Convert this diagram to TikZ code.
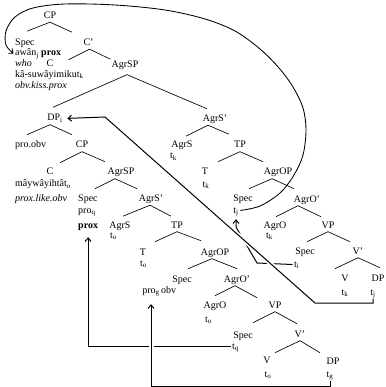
\documentclass[tikz,border=0pt]{standalone}
\usepackage{fontspec}
\setmainfont{Liberation Serif}
\usetikzlibrary{calc,arrows.meta}
\newcommand\mytri[6]{\draw[br] ($(#1.south)+(#2,0)+(#3,#4)$) -- ($(#1.south)+(#2,0)$) -- ($(#1.south)+(#2,0)+(#5,#6)$);}
\begin{document}
\begin{tikzpicture}[x=1pt,y=-1pt,
  lab/.style={inner sep=1.5pt, text height=7pt, text depth=2pt, anchor=base, font=\fontsize{10}{12}\selectfont},
  labw/.style={lab, anchor=base west},
  br/.style={line width=0.65pt},
  con/.style={line width=1pt},
  arr/.style={con, -{Straight Barb[length=3.5pt,width=6pt]}},
]
\useasboundingbox (0,0) rectangle (385,387);

% ---- left / top part
\node[lab] (cp1) at (50,18.5) {CP};
\node[labw] (spec1) at (13.5,45.5) {Spec};
\node[lab] (cbar1) at (88.5,45.5) {C'};
\node[labw] (awan) at (13.5,56) {awân\textsubscript{j} \textbf{prox}};
\node[labw] (who) at (13.5,66.5) {\textit{who}};
\node[lab] (c1) at (50,66.5) {C};
\node[lab] (agrsp1) at (125,68) {AgrSP};
\node[labw] (kasu) at (13.5,77.5) {kâ-suwâyimikut\textsubscript{k}};
\node[labw] (obvkiss) at (13.5,88.5) {\textit{obv.kiss.prox}};
\node[lab] (dpi) at (55,121) {DP\textsubscript{i}};
\node[labw] (proobv) at (13.5,148) {pro.obv};
\node[lab] (cp2) at (82,148) {CP};
\node[lab] (c2) at (50,175) {C};
\node[lab] (agrsp2) at (121,175) {AgrSP};
\node[labw] (mayw) at (13.5,186.5) {mâywâyihtât\textsubscript{o}};
\node[labw] (proxlike) at (13.5,201.5) {\textit{prox.like.obv}};
\node[labw] (spec2) at (76.5,201.5) {Spec};
\node[lab] (agrsbar2) at (151,201.5) {AgrS'};
\node[labw] (proq) at (76.5,213) {pro\textsubscript{q}};
\node[labw] (prox2) at (76.5,228) {\textbf{prox}};
\node[lab] (agrs2) at (120,228) {AgrS};
\node[lab] (tp2) at (177,228) {TP};
\node[labw] (to1) at (108.5,238) {t\textsubscript{o}};
\node[lab] (t2) at (143,255) {T};
\node[labw] (to2) at (138.5,266) {t\textsubscript{o}};
\node[lab] (agrop2) at (215,255) {AgrOP};
\node[lab] (spec3) at (182,282) {Spec};
\node[lab] (agrobar2) at (237,282) {AgrO'};
\node[lab] (prog) at (151,293) {pro\textsubscript{g}};
\node[labw] (obv) at (159.5,293) {obv};
\node[lab] (agro2) at (215,308) {AgrO};
\node[lab] (vp2) at (275,308) {VP};
\node[labw] (to3) at (203.5,322) {t\textsubscript{o}};
\node[lab] (spec4) at (243,338) {Spec};
\node[lab] (vbar2) at (300,337) {V'};
\node[labw] (tq) at (230.5,349) {t\textsubscript{q}};
\node[lab] (v2) at (267,363) {V};
\node[lab] (dp2) at (333,364) {DP};
\node[lab] (to4) at (268,377) {t\textsubscript{o}};
\node[lab] (tg) at (330,377) {t\textsubscript{g}};

% ---- right part
\node[lab] (agrsbarR) at (215,121.5) {AgrS'};
\node[lab] (agrsR) at (182,148) {AgrS};
\node[lab] (tpR) at (240,148) {TP};
\node[labw] (tk1) at (168.5,159) {t\textsubscript{k}};
\node[lab] (tR) at (205,175) {T};
\node[lab] (agropR) at (278,175) {AgrOP};
\node[lab] (tk2) at (206,187) {t\textsubscript{k}};
\node[lab] (specR) at (243,201.5) {Spec};
\node[lab] (agrobarR) at (307,202) {AgrO'};
\node[lab] (tj) at (236,213) {t\textsubscript{j}};
\node[lab] (agroR) at (275,228) {AgrO};
\node[lab] (vpR) at (328,228) {VP};
\node[labw] (tk3) at (264.5,238) {t\textsubscript{k}};
\node[lab] (specR2) at (305,254) {Spec};
\node[lab] (vbarR) at (358,254) {V'};
\node[labw] (ti) at (292.5,267) {t\textsubscript{i}};
\node[lab] (vR) at (345,281) {V};
\node[lab] (dpR) at (378,281) {DP};
\node[lab] (tk4) at (345,295) {t\textsubscript{k}};
\node[lab] (tjR) at (373,295) {t\textsubscript{j}};

% ---- tree branches
\mytri{cp1}{0}{-23}{9}{22}{10}
\mytri{cbar1}{1}{-21}{10.5}{21}{10}
\draw[br] ($(dpi.north)+(-2,-5)$) -- ($(agrsp1.south)+(2,3)$) -- ($(agrsbarR.north)+(-8,-4)$);
\mytri{dpi}{-5}{-23}{10}{22}{10}
\mytri{cp2}{0}{-22}{11}{23}{10}
\mytri{agrsp2}{-6}{-20}{10}{22}{10}
\mytri{agrsbar2}{-1}{-27}{11}{21}{11}
\mytri{tp2}{0}{-22}{10}{24}{9}
\mytri{agrop2}{-3}{-24}{10}{25}{10}
\mytri{agrobar2}{-2}{-20}{10}{22}{12}
\mytri{vp2}{0}{-22}{11}{22}{12}
\mytri{vbar2}{0}{-25}{12}{20}{12}
\mytri{agrsbarR}{-7}{-22}{11}{21}{9}
\mytri{tpR}{0}{-22}{10}{23}{10}
\mytri{agropR}{-6}{-23}{10}{22}{10}
\mytri{agrobarR}{-9}{-22}{11}{23}{11}
\mytri{vpR}{0}{-21}{10}{22}{10}
\mytri{vbarR}{0}{-23}{11}{22}{10}

% ---- movement connectors
\coordinate (c3) at (257,263);
\coordinate (c4) at (0,227);
\draw[arr, shorten >=2.5pt] (ti.west) -- (c3) -- (tj.south |- c4) -- (tj.south);

\coordinate (c8) at (315,303);
\coordinate (c9) at (105,117);
\draw[arr, shorten >=3pt, preaction={draw=white, line width=4.5pt, -, shorten >=0pt}]
  (tjR.south) |- (c8) -- (c9) -- (dpi.east);

\draw[arr, shorten >=5.5pt] (tq.west) -| (prox2.south);

\coordinate (c10) at (0,386);
\draw[arr, shorten >=7.5pt, preaction={draw=white, line width=5pt, -, shorten >=0pt}]
  (tg.south) |- (prog.south |- c10) -- (prog.south);

\draw[con, line width=0.85pt, -{Straight Barb[length=3.5pt,width=6pt]}]
  plot[smooth, tension=0.55] coordinates {(tj.east) (260,206) (280,193) (294,175) (303,155) (306,130) (303,108) (293,87) (279,68) (260,49) (235,31) (205,19) (165,10) (115,5) (65,4) (33,8) (15,17) (6,31) (6,45) (awan.west)};
\end{tikzpicture}
\end{document}
